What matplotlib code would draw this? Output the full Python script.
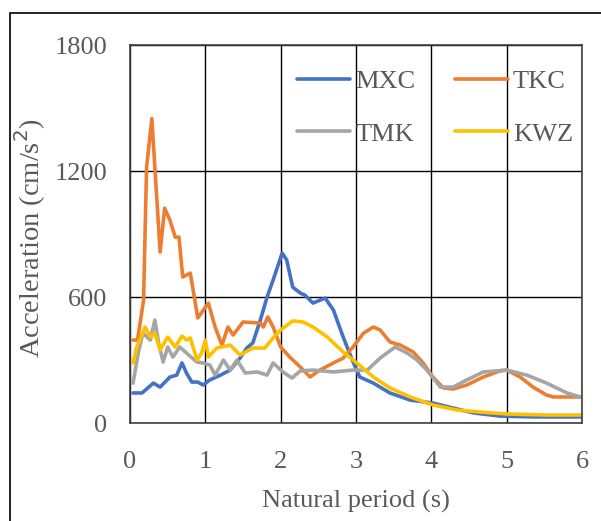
import matplotlib.pyplot as plt
from matplotlib.patches import Rectangle

# Response spectra (period in s, acceleration in cm/s^2)
mxc_t = [0.04, 0.16, 0.31, 0.40, 0.53, 0.62, 0.69, 0.75, 0.82, 0.90, 0.97, 1.06, 1.20, 1.33,
         1.46, 1.55, 1.63, 1.73, 1.82, 1.90, 2.02, 2.08, 2.16, 2.26, 2.32, 2.43, 2.59, 2.70,
         2.83, 2.95, 3.05, 3.23, 3.45, 3.72, 4.02, 4.29, 4.56, 4.91, 5.35, 5.98]
mxc_a = [143, 143, 190, 171, 219, 228, 286, 238, 195, 195, 181, 205, 228, 252,
         309, 357, 381, 490, 600, 681, 809, 776, 647, 619, 609, 571, 595, 538,
         409, 300, 219, 190, 143, 109, 95, 71, 48, 33, 29, 29]

tkc_t = [0.04, 0.10, 0.18, 0.22, 0.29, 0.33, 0.40, 0.46, 0.53, 0.60, 0.65, 0.70, 0.80, 0.90,
         1.04, 1.13, 1.22, 1.30, 1.37, 1.50, 1.73, 1.77, 1.83, 1.90, 2.00, 2.12, 2.26, 2.39,
         2.52, 2.70, 2.83, 2.96, 3.10, 3.23, 3.32, 3.45, 3.59, 3.76, 3.89, 4.02, 4.16, 4.29,
         4.47, 4.69, 4.91, 5.00, 5.18, 5.35, 5.53, 5.62, 5.80, 5.98]
tkc_a = [395, 395, 585, 1218, 1450, 1218, 814, 1023, 966, 885, 885, 695, 714, 500,
         571, 457, 371, 457, 419, 481, 476, 457, 505, 457, 362, 314, 267, 219,
         252, 286, 309, 362, 428, 457, 443, 386, 371, 338, 286, 219, 167, 162,
         181, 219, 248, 252, 219, 171, 133, 124, 124, 124]

tmk_t = [0.04, 0.11, 0.17, 0.27, 0.33, 0.38, 0.44, 0.50, 0.57, 0.66, 0.75, 0.89, 0.97, 1.06,
         1.13, 1.24, 1.33, 1.42, 1.53, 1.69, 1.82, 1.90, 2.03, 2.15, 2.26, 2.43, 2.70, 2.96,
         3.15, 3.32, 3.52, 3.68, 3.81, 3.94, 4.12, 4.29, 4.47, 4.69, 5.00, 5.27, 5.53, 5.80, 5.98]
tmk_a = [190, 333, 428, 395, 490, 381, 290, 362, 314, 362, 333, 290, 286, 276,
         228, 300, 252, 300, 238, 243, 228, 286, 243, 214, 248, 252, 243, 252,
         252, 309, 362, 333, 300, 252, 171, 171, 205, 243, 252, 228, 190, 143, 124]

kwz_t = [0.04, 0.09, 0.20, 0.27, 0.33, 0.40, 0.50, 0.60, 0.69, 0.75, 0.80, 0.89, 0.95, 1.00,
         1.04, 1.15, 1.33, 1.46, 1.63, 1.79, 1.90, 2.00, 2.16, 2.30, 2.43, 2.62, 2.83, 3.01,
         3.23, 3.45, 3.72, 4.02, 4.34, 4.65, 5.00, 5.53, 5.98]
kwz_a = [286, 362, 457, 409, 428, 348, 409, 362, 414, 395, 405, 300, 333, 395,
         314, 357, 371, 324, 357, 357, 405, 443, 486, 481, 457, 409, 338, 286,
         219, 167, 124, 86, 62, 52, 43, 38, 38]

x_ticks = [0, 1, 2, 3, 4, 5, 6]
y_ticks = [0, 600, 1200, 1800]

txt = '#595959'
plt.rcParams['font.family'] = ['Liberation Serif', 'DejaVu Serif']

fig = plt.figure(figsize=(6.01, 5.21), dpi=100)
ax = fig.add_axes([130 / 601, 1 - 423 / 521, 452 / 601, 378 / 521])

# outer frame (cropped on right and bottom in the reference)
fig.patches.append(Rectangle((10 / 601, -0.1), 1.2, 1 - 13 / 521 + 0.1,
                             transform=fig.transFigure, fill=False,
                             edgecolor='black', linewidth=1.2))

lw = 2.6
h1, = ax.plot(mxc_t, mxc_a, color='#4472C4', lw=lw, label='MXC', solid_capstyle='round')
h2, = ax.plot(tkc_t, tkc_a, color='#ED7D31', lw=lw, label='TKC', solid_capstyle='round')
h3, = ax.plot(tmk_t, tmk_a, color='#A5A5A5', lw=lw, label='TMK', solid_capstyle='round')
h4, = ax.plot(kwz_t, kwz_a, color='#FFC000', lw=lw, label='KWZ', solid_capstyle='round')

ax.set_xlim(0, 6)
ax.set_ylim(0, 1800)
ax.set_xticks(x_ticks)
ax.set_yticks(y_ticks)
ax.grid(True, color='black', linewidth=1.0)
ax.set_axisbelow(True)
for s in ax.spines.values():
    s.set_color('#404040')
    s.set_linewidth(1.2)
ax.tick_params(length=0, labelsize=19, labelcolor=txt)
ax.tick_params(axis='x', pad=20)
ax.tick_params(axis='y', pad=16.5)

ax.set_xlabel('Natural period (s)', fontsize=19, color=txt, labelpad=12)
ax.set_ylabel('Acceleration (cm/s$^2$)', fontsize=20.5, color=txt)
ax.yaxis.set_label_coords(-0.182, 0.49)

# row-wise order: MXC TKC / TMK KWZ
leg = ax.legend([h1, h3, h2, h4], ['MXC', 'TMK', 'TKC', 'KWZ'], ncol=2,
                loc='upper left', bbox_to_anchor=(0.37, 0.935), frameon=False,
                fontsize=19, handlelength=2.0, handletextpad=0.2, columnspacing=1.5,
                labelspacing=1.1, borderaxespad=0, borderpad=0)
for t in leg.get_texts():
    t.set_color(txt)

fig.savefig('out.png', dpi=100)
